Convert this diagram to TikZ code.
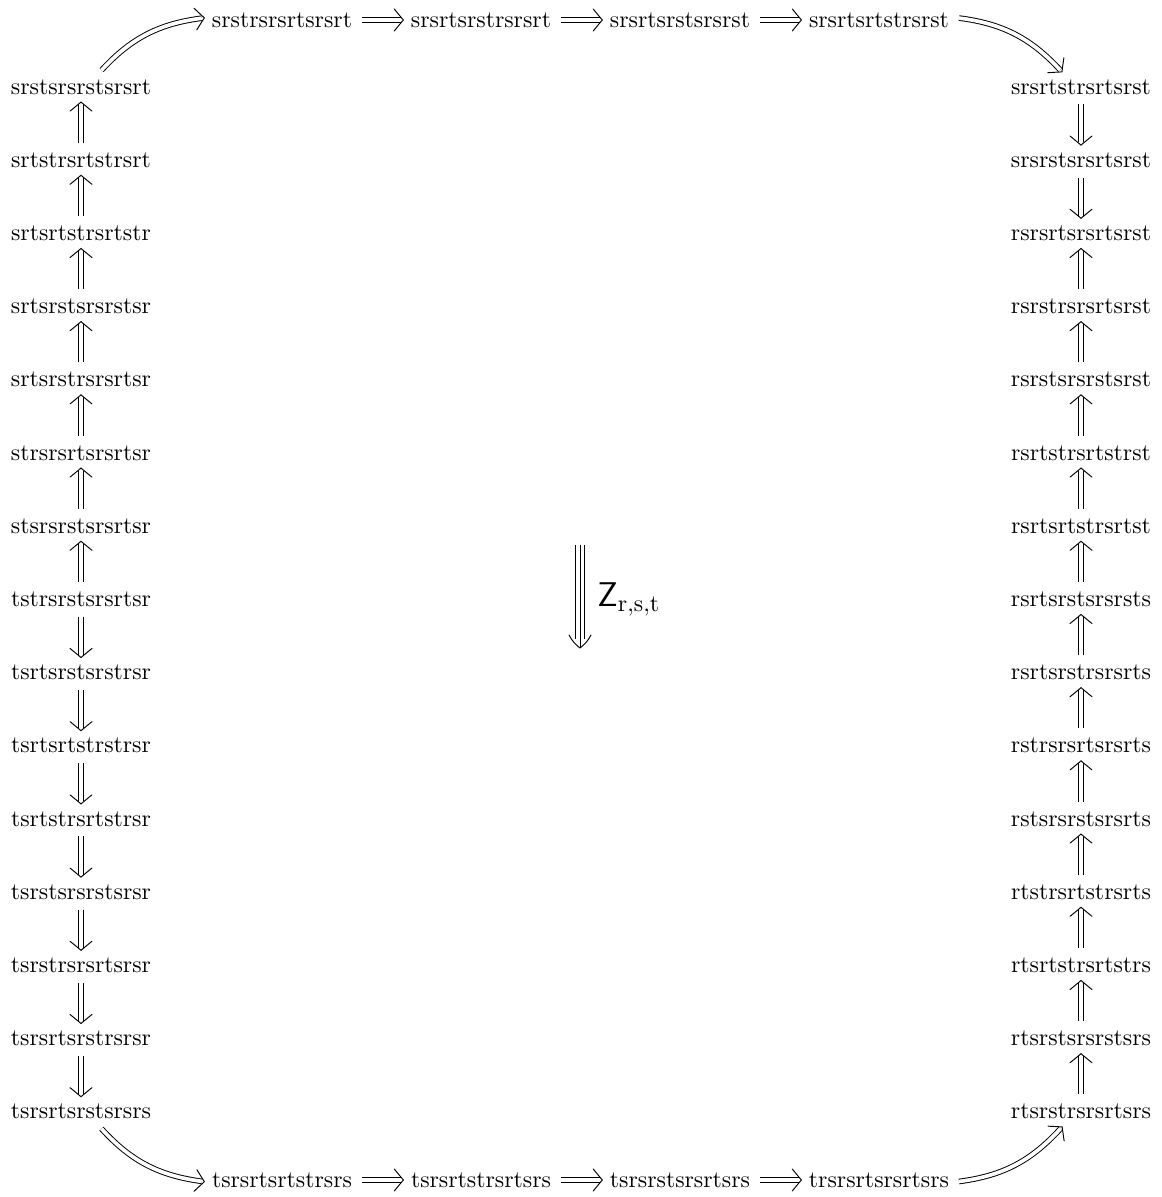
\documentclass[tikz,border=0pt]{standalone}
\usepackage{amsmath}
\usepackage{amssymb}
\usetikzlibrary{arrows.meta, positioning, decorations.markings}

\begin{document}
\begin{tikzpicture}[x=0.42pt,y=0.42pt,
    word/.style={inner sep=3pt},
    vtip/.style={decorate,decoration={markings,mark=at position 1 with {
        \draw[line cap=round] (-3.8pt,4.6pt) .. controls (-1.6pt,1.9pt) .. (0,0)
            .. controls (-1.6pt,-1.9pt) .. (-3.8pt,-4.6pt);}}},
    imp/.style={postaction={draw,double,double equal sign distance,
        shorten <=1pt,shorten >=1.1pt},postaction={vtip}}]
\def\rowgap{73.2}
\def\colgap{199}
\useasboundingbox (0,0) rectangle (1161,1197);

% left column, top to bottom
\foreach \w [count=\i] in {srstsrsrstsrsrt,srtstrsrtstrsrt,srtsrtstrsrtstr,
    srtsrstsrsrstsr,srtsrstrsrsrtsr,strsrsrtsrsrtsr,stsrsrstsrsrtsr,
    tstrsrstsrsrtsr,tsrtsrstsrstrsr,tsrtsrtstrstrsr,tsrtstrsrtstrsr,
    tsrstsrsrstsrsr,tsrstrsrsrtsrsr,tsrsrtsrstrsrsr,tsrsrtsrstsrsrs}
    \node[word] (L\i) at (81,{1110-(\i-1)*\rowgap}) {\w};
% right column, top to bottom
\foreach \w [count=\i] in {srsrtstrsrtsrst,srsrstsrsrtsrst,rsrsrtsrsrtsrst,
    rsrstrsrsrtsrst,rsrstsrsrstsrst,rsrtstrsrtstrst,rsrtsrtstrsrtst,
    rsrtsrstsrsrsts,rsrtsrstrsrsrts,rstrsrsrtsrsrts,rstsrsrstsrsrts,
    rtstrsrtstrsrts,rtsrtstrsrtstrs,rtsrstsrsrstsrs,rtsrstrsrsrtsrs}
    \node[word] (R\i) at (1081,{1110-(\i-1)*\rowgap}) {\w};
% top and bottom rows
\foreach \w [count=\i] in {srstrsrsrtsrsrt,srsrtsrstrsrsrt,srsrtsrstsrsrst,srsrtsrtstrsrst}
    \node[word] (T\i) at ({282+(\i-1)*\colgap},1177) {\w};
\foreach \w [count=\i] in {tsrsrtsrtstrsrs,tsrsrtstrsrtsrs,tsrsrstsrsrtsrs,trsrsrtsrsrtsrs}
    \node[word] (B\i) at ({282+(\i-1)*\colgap},17) {\w};

% left column: up above L8, down below it
\foreach \i [evaluate=\i as \j using int(\i+1)] in {1,...,7}
    \path[imp] (L\j) -- (L\i);
\foreach \i [evaluate=\i as \j using int(\i+1)] in {8,...,14}
    \path[imp] (L\i) -- (L\j);
% right column: everything runs into R3
\path[imp] (R1) -- (R2);
\path[imp] (R2) -- (R3);
\foreach \i [evaluate=\i as \j using int(\i+1)] in {3,...,14}
    \path[imp] (R\j) -- (R\i);
% rows
\foreach \i [evaluate=\i as \j using int(\i+1)] in {1,2,3} {
    \path[imp] (T\i) -- (T\j);
    \path[imp] (B\i) -- (B\j);
}
% corners
\path[imp] (L1) to[bend left=20] (T1);
\path[imp] (T4) to[bend left=20] (R1);
\path[imp] (L15) to[bend right=20] (B1);
\path[imp] (B4) to[bend right=20] (R15);

% triple arrow in the middle
\coordinate (ztop) at (580,652);
\coordinate (zbot) at (580,549);
\coordinate (zl) at (569,562);
\coordinate (zr) at (591,562);
\draw ([xshift=-1.8pt]ztop) -- ([xshift=-1.8pt,yshift=3.6pt]zbot);
\draw (ztop) -- (zbot);
\draw ([xshift=1.8pt]ztop) -- ([xshift=1.8pt,yshift=3.6pt]zbot);
\draw[line cap=round] (zl) to[bend right=12] (zbot) to[bend right=12] (zr);
\node[anchor=west,inner sep=0pt] (zlab) at (597,598) {\Large $\mathsf{Z}_{\mathrm{r,s,t}}$};
\end{tikzpicture}
\end{document}
